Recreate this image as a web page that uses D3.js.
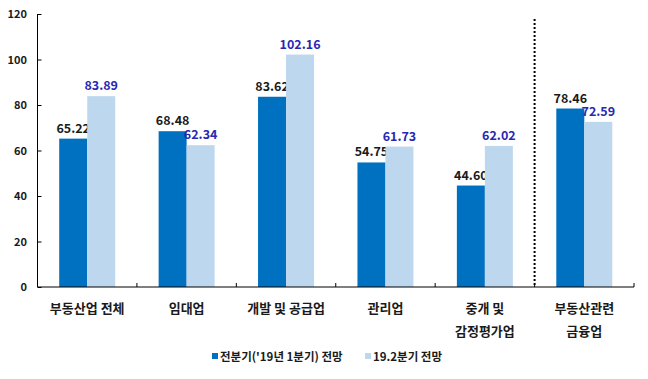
<!DOCTYPE html>
<html><head><meta charset="utf-8">
<script src="https://cdn.jsdelivr.net/npm/d3@7"></script>
<style>body{margin:0;background:#fff}svg{display:block}text{font-family:"Noto Sans CJK KR","Noto Sans",sans-serif;font-weight:bold}</style>
</head><body>
<svg id="c" width="648" height="379"></svg>
<script>
const categories = [["부동산업 전체"],["임대업"],["개발 및 공급업"],["관리업"],["중개 및","감정평가업"],["부동산관련","금융업"]];
const seriesNames = ["전분기('19년 1분기) 전망","19.2분기 전망"];
const prevValues = [65.22,68.48,83.62,54.75,44.60,78.46];
const currValues = [83.89,62.34,102.16,61.73,62.02,72.59];
const yTicks = [0,20,40,60,80,100,120];

(function(){
const colors = ["#0070C0","#BDD7EE"];
const labelColors = ["#1a1a1a","#2828B4"];
const svg = d3.select("#c");
const mL = 37.5, mR = 634, mT = 14, mB = 287;
const idx = categories.map((d,i)=>i);
const x = d3.scaleBand().domain(idx).range([mL,mR]);
const bw = x.bandwidth();
const x1 = d3.scaleBand().domain([0,1]).range([bw/2-28,bw/2+28]);
const y = d3.scaleLinear().domain([0,120]).range([mB,mT]);

const series = [prevValues,currValues];
series.forEach((vals,s)=>{
  const g = svg.append("g");
  g.selectAll("rect").data(vals).join("rect")
    .attr("x",(d,i)=>x(i)+x1(s)).attr("width",x1.bandwidth())
    .attr("y",d=>y(d)).attr("height",d=>y(0)-y(d)).attr("fill",colors[s]);
  g.selectAll("text").data(vals).join("text")
    .attr("x",(d,i)=>x(i)+x1(s)+x1.bandwidth()/2).attr("y",d=>y(d)-6)
    .attr("text-anchor","middle").attr("font-size",12.5).attr("fill",labelColors[s])
    .text(d=>d.toFixed(2));
});

// y axis
const ya = svg.append("g").attr("transform",`translate(${mL},0)`)
  .call(d3.axisRight(y).tickValues(yTicks).tickSize(4).tickFormat(""));
ya.select(".domain").attr("stroke","#000").attr("d",`M0,${mT}V${mB}`);
ya.selectAll(".tick line").attr("stroke","#000");
svg.append("g").selectAll("text").data(yTicks).join("text")
  .attr("x",27).attr("y",d=>y(d)+4).attr("text-anchor","end")
  .attr("font-size",11).attr("fill","#1a1a1a").text(d=>d);

// x axis
const xa = svg.append("g").attr("transform",`translate(0,${mB})`);
xa.append("line").attr("x1",mL).attr("x2",mR).attr("stroke","#000");
xa.selectAll("line.t").data(idx).join("line").attr("class","t")
  .attr("x1",i=>x(i)+bw).attr("x2",i=>x(i)+bw).attr("y1",0).attr("y2",-4).attr("stroke","#000");

// category labels
categories.forEach((lines,i)=>{
  lines.forEach((t,j)=>{
    svg.append("text").attr("x",x(i)+bw/2).attr("y",313+j*23)
      .attr("text-anchor","middle").attr("font-size",13).attr("fill","#1a1a1a").text(t);
  });
});

// dotted separator
svg.append("line").attr("x1",x(5)).attr("x2",x(5)).attr("y1",19).attr("y2",mB)
  .attr("stroke","#000").attr("stroke-width",2).attr("stroke-dasharray","2,2");

// legend
const legX = [212,365];
seriesNames.forEach((n,s)=>{
  svg.append("rect").attr("x",legX[s]).attr("y",353).attr("width",6).attr("height",6).attr("fill",colors[s]);
  svg.append("text").attr("x",legX[s]+8).attr("y",360.5).attr("font-size",11.5).attr("fill","#1a1a1a").text(n);
});
})();
</script>
</body></html>
